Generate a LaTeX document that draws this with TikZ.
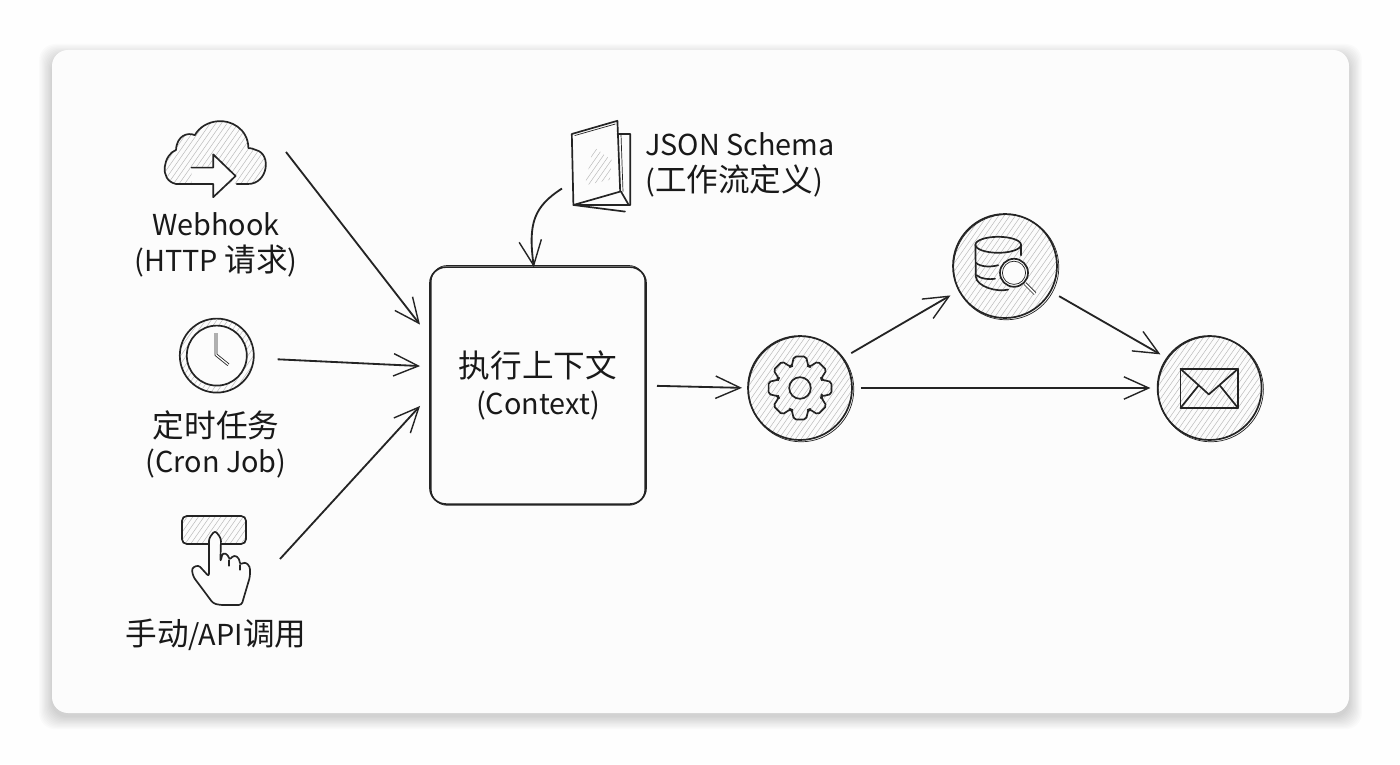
\documentclass[tikz,border=0pt]{standalone}
\usepackage{fontspec}
\setmainfont{Noto Sans CJK SC}
\usetikzlibrary{arrows.meta,calc}
\definecolor{SkInk}{HTML}{242424}
\definecolor{SkCard}{HTML}{FCFCFC}
\definecolor{SkPage}{HTML}{FEFEFE}
\newcommand{\zh}[1]{{\fontsize{22.5}{25.5}\selectfont #1}}
\tikzset{
  labeltext/.style={font=\fontsize{20.5}{25.5}\selectfont,text=black!90,inner sep=0pt,align=center},
  iconline/.style={draw=SkInk,line width=1.2pt,line join=round,line cap=round},
  thinline/.style={draw=SkInk,line width=0.5pt},
  hatched/.style={path picture={
    \foreach \o in {-3,-2.86,...,3}
      \draw[black!27,line width=0.35pt] ($(path picture bounding box.center)+(\o-1.4,-2)$) -- ++(2.8,4);
  }},
  anchorbox/.style={inner sep=0pt,outer sep=0pt,minimum height=2cm},
  flow/.style={draw=SkInk,line width=1.3pt,-{Straight Barb[length=0.62cm,width=0.56cm,line width=1pt]}},
  stagecircle/.style={circle,draw=SkInk,line width=1.2pt,minimum size=2.6cm,inner sep=0pt,outer sep=0pt,hatched},
}
\begin{document}
\begin{tikzpicture}
  \useasboundingbox (0,0) rectangle (35,19.1);
  \fill[SkPage] (0,0) rectangle (35,19.1);
  % card with its soft shadow
  \foreach \g in {0.02,0.05,...,0.32}
    \fill[black,opacity=0.014,rounded corners=0.4cm] (1.3-\g,1.19-\g) rectangle (33.725+\g,17.68+\g);
  \fill[SkCard,rounded corners=0.4cm] (1.3,1.275) rectangle (33.725,17.85);

  % sources
  \node[anchorbox,minimum width=3.5cm] (cloud) at (5.4,15.3) {};
  \node[labeltext] (webhooklabel) at (5.4,12.97) {Webhook\\(HTTP \zh{请求})};
  \node[circle,inner sep=0pt,outer sep=0pt,minimum size=1.85cm] (clock) at (5.42,10.21) {};
  \node[labeltext] (cronlabel) at (5.4,7.99) {\zh{定时任务}\\(Cron Job)};
  \node[anchorbox,minimum width=3.2cm] (button) at (5.4,5.125) {};
  \node[labeltext] (manuallabel) at (5.4,3.23) {\zh{手动}/API\zh{调用}};

  % schema
  \node[anchorbox,minimum width=1.95cm,minimum height=2.3cm] (schema) at (15.025,14.95) {};
  \node[labeltext,align=left,anchor=west] (schemalabel) at (16.125,14.97) {JSON Schema\\(\zh{工作流定义})};

  % context and steps
  \node[draw=SkInk,line width=1.2pt,rounded corners=0.4cm,minimum width=5.4cm,minimum height=5.925cm,inner sep=0pt,outer sep=0pt,labeltext] (ctx) at (13.45,9.46) {\zh{执行上下文}\\[1pt](Context)};
  \draw[thinline,rounded corners=0.4cm] ($(ctx.south west)+(0.03,-0.03)$) rectangle ($(ctx.north east)+(-0.03,0.04)$);
  \node[stagecircle] (gear) at (20,9.4) {};
  \node[stagecircle] (dbase) at (25.125,12.45) {};
  \node[stagecircle] (mail) at (30.24,9.4) {};
  \foreach \n in {gear,dbase,mail}
    \draw[thinline] ($(\n)+(0.03,-0.03)$) circle (1.315);

  % cloud icon
  \begin{scope}[shift={(cloud)}]
    \path[hatched] (0.52,-0.8) -- (0.8,-0.8) .. controls (1.3,-0.8) and (1.4,-0.05) .. (1,0.05) .. controls (0.93,0.08) and (0.87,0.1) .. (0.81,0.1) .. controls (0.8,0.6) and (0.35,0.8) .. (0.05,0.77) .. controls (-0.2,0.75) and (-0.42,0.62) .. (-0.53,0.42) .. controls (-0.7,0.5) and (-0.98,0.42) .. (-1,0.05) .. controls (-1.3,-0.05) and (-1.45,-0.7) .. (-1,-0.8) -- cycle;
    \fill[SkCard] (-0.61,-0.39) -- (-0.07,-0.39) -- (-0.07,-0.06) -- (0.49,-0.6) -- (-0.07,-1.13) -- (-0.07,-0.8) -- (-0.61,-0.8) -- cycle;
    \draw[iconline] (0.52,-0.8) -- (0.8,-0.8) .. controls (1.3,-0.8) and (1.4,-0.05) .. (1,0.05) .. controls (0.93,0.08) and (0.87,0.1) .. (0.81,0.1) .. controls (0.8,0.6) and (0.35,0.8) .. (0.05,0.77) .. controls (-0.2,0.75) and (-0.42,0.62) .. (-0.53,0.42) .. controls (-0.7,0.5) and (-0.98,0.42) .. (-1,0.05) .. controls (-1.3,-0.05) and (-1.45,-0.7) .. (-1,-0.8) -- (-0.07,-0.8) -- (-0.07,-1.13) -- (0.49,-0.6) -- (-0.07,-0.06) -- (-0.07,-0.39) -- (-0.61,-0.39);
  \end{scope}

  % clock icon
  \begin{scope}[shift={(clock)}]
    \draw[iconline,hatched] (0,0) circle (0.925);
    \draw[iconline,fill=SkCard] (0,0) circle (0.75);
    \draw[SkInk,line width=0.6pt,double=SkCard,double distance=0.9pt,line join=round] (-0.02,0.56) -- (-0.02,0.02) -- (0.29,-0.23);
  \end{scope}

  % button icon
  \begin{scope}[shift={(button)}]
    \draw[iconline,hatched,rounded corners=0.12cm] (-0.85,0.375) rectangle (0.75,1.075);
    \draw[iconline,fill=SkCard,rounded corners=0.07cm] (-0.175,-0.44) -- (-0.44,-0.15) -- (-0.61,-0.23) -- (-0.57,-0.44) -- (-0.07,-1.11) -- (0.1,-1.15) -- (0.64,-1.15) -- (0.85,-0.44) -- (0.85,-0.19) -- (0.725,-0.07) -- (0.6,-0.15) -- (0.58,0.02) -- (0.45,0.1) -- (0.33,-0.03) -- (0.31,0.1) -- (0.17,0.16) -- (0.11,-0.07) -- (0.125,0.52) -- (-0.025,0.71) -- (-0.175,0.52) -- cycle;
    \draw[iconline] (0.33,-0.03) -- (0.33,-0.17) (0.6,-0.15) -- (0.6,-0.27);
  \end{scope}

  % schema icon
  \begin{scope}[shift={(schema)}]
    \draw[iconline] (0.41,0.8) -- (0.73,0.8) -- (0.73,-0.975) -- (-0.69,-0.975) -- (0.6,-1.14);
    \draw[iconline] (0.5,-0.64) -- (0.68,-0.95);
    \draw[iconline] (-0.73,0.8) -- (0.41,1.13) -- (0.48,-0.64) -- (-0.69,-0.975) -- cycle;
    \draw[thinline] (-0.66,0.76) -- (0.36,1.05) (0.5,0.8) -- (0.55,-0.64);
    \path[hatched] (-0.19,0.48) -- (0.27,0.15) -- (0.22,-0.35) -- (-0.4,-0.48) -- cycle;
  \end{scope}

  % gear icon
  \begin{scope}[shift={(gear)}]
    \draw[iconline,rounded corners=0.05cm] (-21:0.58) \foreach \a in {0,45,...,315} { -- (\a-21:0.58) -- (\a-11:0.8) -- (\a+11:0.8) -- (\a+21:0.58) } -- cycle;
    \draw[iconline] (0,0) circle (0.27);
  \end{scope}

  % database icon
  \begin{scope}[shift={(dbase)}]
    \draw[iconline] (-0.17,0.53) ellipse (0.57 and 0.2);
    \draw[iconline] (-0.74,0.53) -- (-0.73,-0.27) .. controls (-0.7,-0.52) and (-0.2,-0.66) .. (0.08,-0.59);
    \draw[iconline] (0.4,0.53) -- (0.4,0.27);
    \draw[iconline] (-0.73,0.08) .. controls (-0.6,-0.03) and (-0.35,-0.03) .. (-0.17,0.02);
    \draw[iconline] (-0.71,-0.23) .. controls (-0.6,-0.33) and (-0.4,-0.34) .. (-0.25,-0.32);
    \draw[iconline,fill=SkCard] (0.225,-0.17) circle (0.35);
    \draw[thinline] (0.225,-0.17) circle (0.29);
    \draw[SkInk,line width=0.6pt,double=SkCard,double distance=1.2pt] (0.5,-0.44) -- (0.75,-0.69);
  \end{scope}

  % mail icon
  \begin{scope}[shift={(mail)}]
    \draw[iconline] (-0.73,-0.5) rectangle (0.71,0.48);
    \draw[iconline] (-0.73,0.48) -- (-0.02,-0.16) -- (0.71,0.48);
    \draw[iconline] (-0.73,-0.5) -- (-0.27,0.07) (0.71,-0.5) -- (0.25,0.07);
  \end{scope}

  % connectors
  \draw[flow,shorten >=0.41cm] (cloud.east) -- (ctx.156);
  \draw[flow,shorten <=0.6cm,shorten >=0.25cm] (clock.-4) -- (ctx.170.6);
  \draw[flow,shorten >=0.37cm] (button.east) -- (ctx.185.6);
  \draw[flow] (schema.210) .. controls +(-0.7,-0.45) and +(-0.15,1.1) .. (ctx.92);
  \draw[flow,shorten <=0.275cm,shorten >=0.15cm] (ctx.east) -- (gear.west);
  \draw[flow,shorten <=0.25cm,shorten >=0.25cm] (gear.35) -- (dbase.208);
  \draw[flow,shorten <=0.25cm,shorten >=0.19cm] (dbase.-29) -- (mail.145.5);
  \draw[flow,shorten <=0.22cm,shorten >=0.18cm] (gear.east) -- (mail.west);
\end{tikzpicture}
\end{document}
